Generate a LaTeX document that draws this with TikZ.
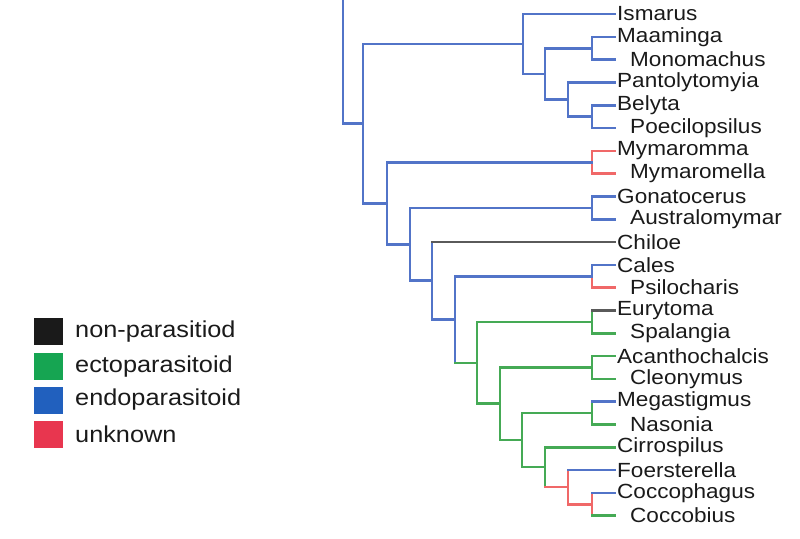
\documentclass[tikz,border=0pt]{standalone}
\usepackage{fontspec}
\setmainfont{Liberation Sans}
\newfontfamily\labfont[FakeStretch=1.1]{Liberation Sans}
\definecolor{bl}{HTML}{5274C8}
\definecolor{gr}{HTML}{45AA55}
\definecolor{rd}{HTML}{F06868}
\definecolor{gy}{HTML}{5A5A5A}
\definecolor{txt}{HTML}{1A1A1A}
\definecolor{lgk}{HTML}{1A1A1A}
\definecolor{lgg}{HTML}{16A552}
\definecolor{lgb}{HTML}{2160BE}
\definecolor{lgr}{HTML}{E8364F}
\tikzset{
  br/.style={line width=2.6pt, line cap=rect},
  lab/.style={anchor=west, inner sep=0pt, text=txt, font=\labfont\fontsize{20.5}{24}\selectfont},
  leglab/.style={anchor=west, inner sep=0pt, text=txt, font=\labfont\fontsize{23}{27}\selectfont},
  sq/.style={draw=none, minimum width=29pt, minimum height=27pt, inner sep=0pt}
}
\begin{document}
\begin{tikzpicture}[x=1pt,y=-1pt]
\useasboundingbox (0,0) rectangle (800,538);
% tips
\foreach \i in {0,...,22}{
  \coordinate (t\i) at (615,{14+22.8*\i});
}
\foreach \i/\n in {0/Ismarus,1/Maaminga,3/Pantolytomyia,4/Belyta,6/Mymaromma,8/Gonatocerus,10/Chiloe,11/Cales,13/Eurytoma,15/Acanthochalcis,17/Megastigmus,19/Cirrospilus,20/Foersterella,21/Coccophagus}{
  \node[lab] (l\i) at (617,{14+22.8*\i}) {\n};
}
\foreach \i/\n in {2/Monomachus,5/Poecilopsilus,7/Mymaromella,9/Australomymar,12/Psilocharis,14/Spalangia,16/Cleonymus,18/Nasonia,22/Coccobius}{
  \node[lab] (l\i) at (630,{14+22.8*\i}) {\n};
}
% internal nodes
\coordinate (D) at (592,48.2);
\coordinate (F) at (592,116.6);
\coordinate (E) at (568,99.5);
\coordinate (C) at (545,73.85);
\coordinate (B) at (523,43.9);
\coordinate (G) at (592,162.2);
\coordinate (Gn) at (592,207.8);
\coordinate (Ca) at (592,276.2);
\coordinate (Eu) at (592,321.8);
\coordinate (Ac) at (592,367.4);
\coordinate (Mg) at (592,413);
\coordinate (Q) at (592,504.2);
\coordinate (P) at (568,487.1);
\coordinate (O) at (545,467.15);
\coordinate (N) at (522,440.1);
\coordinate (M) at (500,403.7);
\coordinate (L) at (477,362.8);
\coordinate (K) at (455,319.5);
\coordinate (J) at (432,280.7);
\coordinate (I) at (410,244.3);
\coordinate (H) at (387,203.2);
\coordinate (A) at (363,123.6);
\coordinate (R) at (343,123.6);
\coordinate (Rtop) at (343,-2);
% root
\draw[br,bl] (Rtop) -- (R) -- (A);
% verticals
\foreach \nd/\a/\b/\c in {A/B/H/bl,B/t0/C/bl,C/D/E/bl,D/t1/t2/bl,E/t3/F/bl,F/t4/t5/bl,G/t6/t7/rd,H/G/I/bl,I/Gn/J/bl,Gn/t8/t9/bl,J/t10/K/bl,K/Ca/L/bl,L/Eu/M/gr,Eu/t13/t14/gr,M/Ac/N/gr,Ac/t15/t16/gr,N/Mg/O/gr,Mg/t17/t18/gr,O/t19/P/gr,P/t20/Q/rd,Q/t21/t22/rd}{
  \draw[br,\c] (\nd |- \a) -- (\nd |- \b);
}
\draw[br,bl] (Ca |- t11) -- (Ca);
\draw[br,rd] (Ca) -- (Ca |- t12);
% horizontals
\foreach \nd/\ch/\c in {A/B/bl,A/H/bl,B/t0/bl,B/C/bl,C/D/bl,C/E/bl,D/t1/bl,D/t2/bl,E/t3/bl,E/F/bl,F/t4/bl,F/t5/bl,H/G/bl,G/t6/rd,G/t7/rd,H/I/bl,I/Gn/bl,Gn/t8/bl,Gn/t9/bl,I/J/bl,J/t10/gy,J/K/bl,K/Ca/bl,Ca/t11/bl,Ca/t12/rd,K/L/gr,L/Eu/gr,Eu/t13/gy,Eu/t14/gr,L/M/gr,M/Ac/gr,Ac/t15/gr,Ac/t16/gr,M/N/gr,N/Mg/gr,Mg/t17/bl,Mg/t18/gr,N/O/gr,O/t19/gr,O/P/rd,P/t20/bl,P/Q/rd,Q/t21/bl,Q/t22/gr}{
  \draw[br,\c] (\nd |- \ch) -- (\ch);
}
% legend
\node[sq,fill=lgk] (s1) at (48.5,331.5) {};
\node[sq,fill=lgg] (s2) at (48.5,366.5) {};
\node[sq,fill=lgb] (s3) at (48.5,400) {};
\node[sq,fill=lgr] (s4) at (48.5,434) {};
\node[leglab] (g1) at (75,331.5) {non-parasitiod};
\node[leglab] (g2) at (75,366.5) {ectoparasitoid};
\node[leglab] (g3) at (75,400) {endoparasitoid};
\node[leglab] (g4) at (75,434) {unknown};
\end{tikzpicture}
\end{document}
